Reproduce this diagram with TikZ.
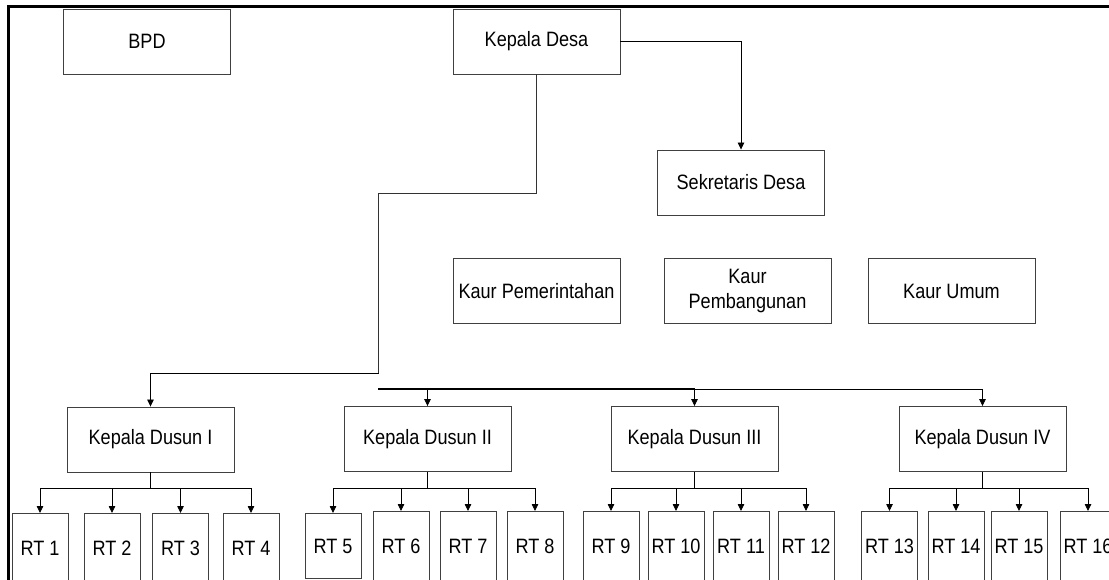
\documentclass[tikz,border=0pt]{standalone}
\usepackage{fontspec}
\setmainfont[FakeStretch=0.87]{Liberation Sans}
\usetikzlibrary{arrows.meta}
\begin{document}
\begin{tikzpicture}[x=1pt,y=-1pt,
  font=\fontsize{20.8}{25}\selectfont,
  box/.style={draw=black!75, line width=0.9pt, inner sep=0pt, minimum width=167pt, minimum height=65pt, align=center},
  rtbox/.style={draw=black!75, line width=0.9pt, inner sep=0pt, minimum width=56pt, minimum height=70pt, anchor=north},
  conn/.style={line width=0.8pt, draw=black},
  thick conn/.style={line width=1.8pt, draw=black},
  arr/.style={conn, -{Triangle[length=7pt,width=6.5pt]}},
  frame/.style={line width=3pt, draw=black}]
\useasboundingbox (0,0) rectangle (1109,579);
\clip (0,0) rectangle (1109,579);

% frame
\draw[frame] (8.5,585) -- (8.5,6) -- (1115,6);

% top level
\node[box] (bpd) at (147,41.5) {BPD};
\node[box] (kades) at (536.5,41.5) {Kepala Desa};
\node[box] (sekdes) at (741,182.5) {Sekretaris Desa};
\node[box] (kpem) at (536.5,291) {Kaur Pemerintahan};
\node[box] (kbang) at (747.5,291) {Kaur\\Pembangunan};
\node[box] (kumum) at (951.5,291) {Kaur Umum};

% dusun
\node[box] (dus1) at (150.5,439.5) {Kepala Dusun I};
\node[box] (dus2) at (427.5,439) {Kepala Dusun II};
\node[box] (dus3) at (694.5,439) {Kepala Dusun III};
\node[box] (dus4) at (982.5,439) {Kepala Dusun IV};

% RT boxes
\node[rtbox] (rt1) at (40,513) {RT 1};
\node[rtbox] (rt2) at (112,513) {RT 2};
\node[rtbox] (rt3) at (180.5,513) {RT 3};
\node[rtbox] (rt4) at (251,513) {RT 4};
\node[rtbox, minimum height=65pt] (rt5) at (333,513) {RT 5};
\node[rtbox] (rt6) at (401,511) {RT 6};
\node[rtbox] (rt7) at (468,511) {RT 7};
\node[rtbox] (rt8) at (535,511) {RT 8};
\node[rtbox] (rt9) at (611,511) {RT 9};
\node[rtbox] (rt10) at (676,511) {RT 10};
\node[rtbox] (rt11) at (741,511) {RT 11};
\node[rtbox] (rt12) at (806,511) {RT 12};
\node[rtbox] (rt13) at (889.5,511) {RT 13};
\node[rtbox] (rt14) at (956,511) {RT 14};
\node[rtbox] (rt15) at (1019,511) {RT 15};
\node[rtbox] (rt16) at (1088,511) {RT 16};

% Kepala Desa -> Sekretaris Desa
\draw[arr] (kades.east) -| (sekdes.north);

% Kepala Desa -> Kepala Dusun I
\coordinate (j1) at (378.5,193);
\coordinate (j2) at (378.5,373);
\draw[conn, draw=black!80] (kades.south) |- (j1) -- (j2);
\draw[arr] (j2) -| (dus1.north);

% bus to Dusun II-IV
\coordinate (b0) at (378,389);
\draw[thick conn] (b0) -- (dus3.north |- b0);
\draw[conn] (dus3.north |- b0) -- (dus4.north |- b0);
\foreach \d in {2,3,4} \draw[arr] (dus\d.north |- b0) -- (dus\d.north);

% Dusun -> RT
\coordinate (h) at (0,488);
\draw[thick conn] (dus1.south) -- (dus1.south |- h);
\draw[conn] (rt1.north |- h) -- (rt4.north |- h);
\foreach \r in {1,...,4} \draw[arr] (rt\r.north |- h) -- (rt\r.north);

\draw[conn] (dus2.south) -- (dus2.south |- h);
\draw[conn] (rt5.north |- h) -- (rt8.north |- h);
\foreach \r in {5,...,8} \draw[arr] (rt\r.north |- h) -- (rt\r.north);

\draw[thick conn] (dus3.south) -- (dus3.south |- h);
\draw[conn] (rt9.north |- h) -- (rt12.north |- h);
\foreach \r in {9,...,12} \draw[arr] (rt\r.north |- h) -- (rt\r.north);

\draw[thick conn] (dus4.south) -- (dus4.south |- h);
\draw[conn] (rt13.north |- h) -- (rt16.north |- h);
\foreach \r in {13,...,16} \draw[arr] (rt\r.north |- h) -- (rt\r.north);
\end{tikzpicture}
\end{document}
